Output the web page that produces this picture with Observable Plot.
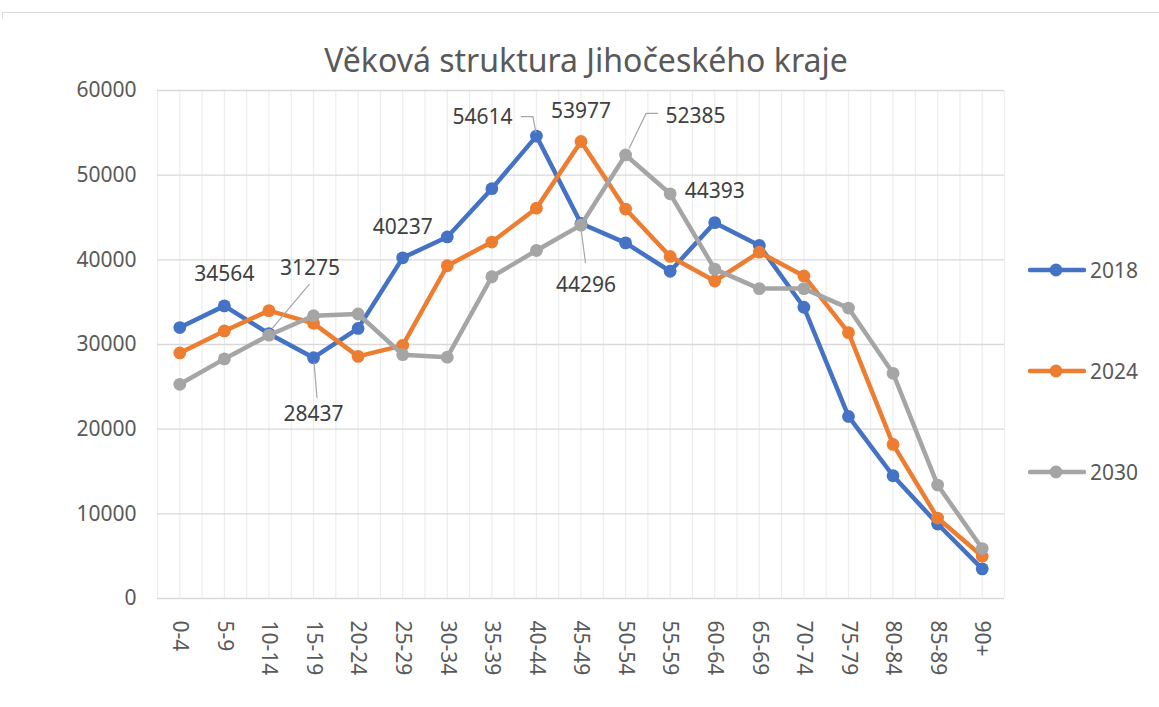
<!DOCTYPE html>
<html><head><meta charset="utf-8">
<script src="https://cdn.jsdelivr.net/npm/d3@7"></script>
<script src="https://cdn.jsdelivr.net/npm/@observablehq/plot@0.6"></script>
<style>
body{margin:0;background:#fff;}
#wrap{position:relative;width:1159px;height:707px;font-family:"Noto Sans",sans-serif;overflow:hidden;}
#frame{position:absolute;left:2px;top:12px;right:0;height:6px;border-top:1.5px solid #d9d9d9;border-left:1.5px solid #d9d9d9;}
#title{position:absolute;left:0;width:1172px;top:38px;text-align:center;font-size:32px;color:#595959;line-height:44px;}
#chart{position:absolute;left:0;top:0;}
.leg{position:absolute;left:1028px;height:30px;display:flex;align-items:center;font-size:21px;color:#595959;}
.leg svg{margin-right:4px;}
</style></head><body>
<div id="wrap"><div id="frame"></div><div id="chart"></div><div id="title">Věková struktura Jihočeského kraje</div></div>
<script>
const ageGroups = ["0-4","5-9","10-14","15-19","20-24","25-29","30-34","35-39","40-44","45-49","50-54","55-59","60-64","65-69","70-74","75-79","80-84","85-89","90+"];
const years = ["2018","2024","2030"];
const pop2018 = [32000,34564,31275,28437,31900,40237,42700,48400,54614,44296,42000,38650,44393,41700,34400,21500,14500,8800,3500];
const pop2024 = [29000,31600,34000,32500,28600,29900,39300,42100,46100,53977,46000,40400,37500,40900,38100,31400,18200,9500,5000];
const pop2030 = [25300,28300,31100,33400,33600,28800,28500,38000,41100,44100,52385,47800,38900,36600,36600,34300,26600,13400,5900];
const yTicks = [0,10000,20000,30000,40000,50000,60000];
const seriesColors = ["#4472C4","#ED7D31","#A5A5A5"];

// which points carry a data label
const labeledPoints = [
  {year:"2018", age:"5-9"}, {year:"2018", age:"10-14"}, {year:"2018", age:"15-19"},
  {year:"2018", age:"25-29"}, {year:"2018", age:"40-44"}, {year:"2018", age:"45-49"},
  {year:"2018", age:"60-64"}, {year:"2024", age:"45-49"}, {year:"2030", age:"50-54"}
];
// label placement (pixel offsets from the point) and leader paths, pure styling
const labelStyle = {
  "2018|5-9":   {dx:0,   dy:-32},
  "2018|10-14": {dx:41,  dy:-65, leader:[[41,-49],[4,-5]]},
  "2018|15-19": {dx:0,   dy:57,  leader:[[1,5],[4,41]]},
  "2018|25-29": {dx:0,   dy:-31},
  "2018|40-44": {dx:-54, dy:-19, leader:[[-15,-19],[-3,-19],[0,-3]]},
  "2018|45-49": {dx:5,   dy:62,  leader:[[0,2],[5,40]]},
  "2018|60-64": {dx:0,   dy:-31},
  "2024|45-49": {dx:0,   dy:-30},
  "2030|50-54": {dx:70,  dy:-39, leader:[[33,-41],[21,-41],[4,-6]]}
};

const seriesData = [pop2018, pop2024, pop2030];
const rows = years.flatMap((yr, s) => ageGroups.map((age, i) => ({year: yr, age, i, v: seriesData[s][i]})));
const labels = labeledPoints.map(p => rows.find(r => r.year === p.year && r.age === p.age));

const marks = [
  Plot.ruleX(d3.range(-0.5, 18.51, 0.5), {stroke: "#ededed", strokeWidth: 1.2}),
  Plot.ruleY(yTicks, {stroke: "#d9d9d9", strokeWidth: 1.3}),
  Plot.axisY({ticks: yTicks, tickFormat: d => String(d), tickSize: 0, tickPadding: 21, fill: "#595959", fontSize: 21, label: null}),
  Plot.axisX({ticks: d3.range(ageGroups.length), tickFormat: i => ageGroups[i], tickRotate: 90, tickSize: 0, tickPadding: 22, fill: "#595959", fontSize: 21, label: null}),
];
years.forEach((yr, s) => {
  const d = rows.filter(r => r.year === yr);
  marks.push(Plot.line(d, {x: "i", y: "v", stroke: seriesColors[s], strokeWidth: 4.5, strokeLinejoin: "round", strokeLinecap: "round"}));
  marks.push(Plot.dot(d, {x: "i", y: "v", r: 6.4, fill: seriesColors[s], stroke: "none"}));
});
// leader lines
marks.push((index, scales) => {
  const g = d3.create("svg:g");
  labels.forEach(l => {
    const st = labelStyle[l.year + "|" + l.age];
    if (!st.leader) return;
    const px = scales.x(l.i), py = scales.y(l.v);
    g.append("path")
      .attr("d", d3.line()(st.leader.map(([a, b]) => [px + a, py + b])))
      .attr("fill", "none").attr("stroke", "#a6a6a6").attr("stroke-width", 1.2);
  });
  return g.node();
});
labels.forEach(l => {
  const st = labelStyle[l.year + "|" + l.age];
  marks.push(Plot.text([l], {x: "i", y: "v", text: d => String(d.v), dx: st.dx, dy: st.dy, fill: "#404040", fontSize: 21}));
});

const chart = Plot.plot({
  width: 1159, height: 707,
  marginLeft: 157, marginRight: 155, marginTop: 90, marginBottom: 109,
  x: {type: "linear", domain: [-0.5, 18.5], label: null},
  y: {domain: [0, 60000], label: null},
  style: {fontFamily: "'Noto Sans', sans-serif", fontSize: "21px", color: "#595959", background: "transparent"},
  marks
});
document.getElementById("chart").appendChild(chart);

// legend
const wrap = document.getElementById("wrap");
const legendY = [270, 371, 472];
years.forEach((yr, s) => {
  const div = document.createElement("div");
  div.className = "leg";
  div.style.top = (legendY[s] - 15) + "px";
  div.innerHTML = `<svg width="58" height="20"><line x1="2" y1="10" x2="56" y2="10" stroke="${seriesColors[s]}" stroke-width="4.5" stroke-linecap="round"/><circle cx="28" cy="10" r="6.4" fill="${seriesColors[s]}"/></svg><span>${yr}</span>`;
  wrap.appendChild(div);
});
</script>
</body></html>
